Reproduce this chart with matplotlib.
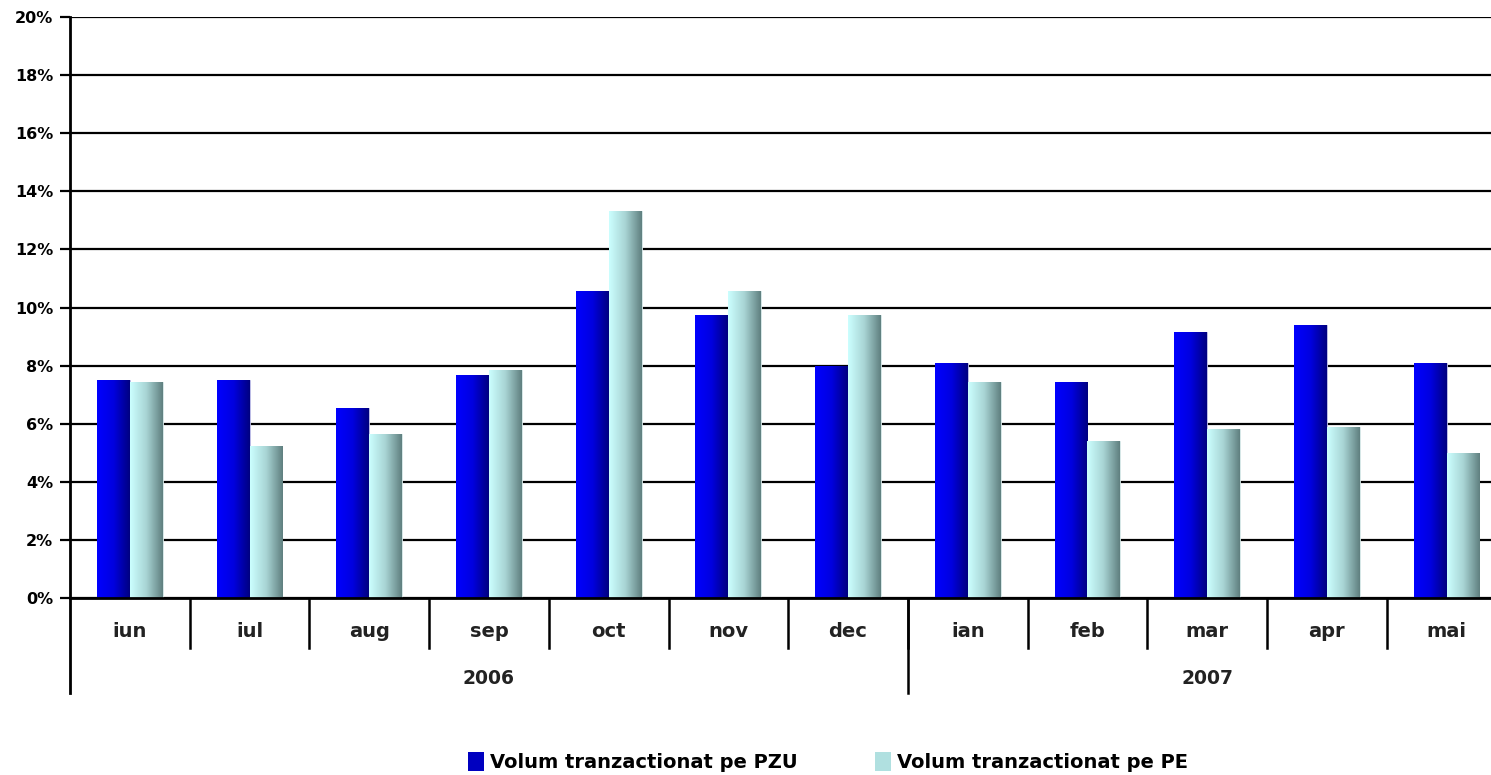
import numpy as np
import matplotlib.pyplot as plt
from matplotlib.patches import Patch
from matplotlib.colors import LinearSegmentedColormap

plt.rcParams['font.family'] = ['DejaVu Sans']
plt.rcParams['font.weight'] = 'bold'

# date
luni = ["iun", "iul", "aug", "sep", "oct", "nov", "dec", "ian", "feb", "mar", "apr", "mai"]
ani = ["2006", "2007"]
luni_pe_an = [7, 5]
pzu = [7.52, 7.52, 6.55, 7.69, 10.56, 9.73, 8.00, 8.10, 7.45, 9.17, 9.41, 8.09]
pe = [7.44, 5.23, 5.65, 7.86, 13.33, 10.57, 9.73, 7.45, 5.41, 5.83, 5.89, 4.99]
yticks = [0, 2, 4, 6, 8, 10, 12, 14, 16, 18, 20]

W, H = 1491, 775
fig = plt.figure(figsize=(W / 100, H / 100), dpi=100)
# axa se intinde dincolo de marginea dreapta (ca in original)
ax = fig.add_axes([70 / W, 1 - 598 / H, 12 * 119.7 / W, 581 / H])

x = np.arange(len(luni))
w = 0.275

cm_pzu = LinearSegmentedColormap.from_list("pzu", ["#0000ff", "#0000e0", "#000080"])
cm_pe = LinearSegmentedColormap.from_list("pe", ["#ccffff", "#a8d4d4", "#5f7f7f"])
grad = np.linspace(0, 1, 256).reshape(1, -1)

bars1 = ax.bar(x - w / 2, pzu, w, color="#0000c0", edgecolor="#c8c8e8", linewidth=0.6, zorder=3)
bars2 = ax.bar(x + w / 2, pe, w, color="#9fcfcf", edgecolor="#d8e8e8", linewidth=0.6, zorder=3)
for bars, cm in [(bars1, cm_pzu), (bars2, cm_pe)]:
    for b in bars:
        x0, y0 = b.get_x(), b.get_y()
        im = ax.imshow(grad, cmap=cm, aspect="auto", zorder=4,
                       extent=[x0, x0 + b.get_width(), y0, y0 + b.get_height()])
        im.set_clip_path(b)

ax.set_xlim(-0.5, len(luni) - 0.5)
ax.set_ylim(0, 20)
ax.set_yticks(yticks)
ax.set_yticklabels([f"{t}%" for t in yticks], fontsize=11.5, fontweight="bold")
ax.yaxis.grid(True, color="black", linewidth=1.6, zorder=0)
ax.set_axisbelow(True)
ax.tick_params(axis="y", length=7, width=1.6, pad=5)
ax.tick_params(axis="x", length=0)
ax.set_xticks([])
for s in ["top", "right", "bottom"]:
    ax.spines[s].set_visible(False)
ax.spines["left"].set_linewidth(2)
ax.spines["left"].set_bounds(0, 20)

tr = ax.get_xaxis_transform()
# linia de baza
ax.plot([-0.5, len(luni) - 0.5], [0, 0], transform=tr, color="black", lw=2, clip_on=False, zorder=5)
# etichete luni si separatoare
for i, m in enumerate(luni):
    ax.text(i, -0.057, m, transform=tr, ha="center", va="center", fontsize=14, fontweight="bold",
            color="#222222")
for i in range(1, len(luni)):
    ax.plot([i - 0.5, i - 0.5], [0, -0.086], transform=tr, color="black", lw=1.8, clip_on=False)
# etichete ani
start = 0
for an, n in zip(ani, luni_pe_an):
    ax.text(start + n / 2 - 0.5, -0.139, an, transform=tr, ha="center", va="center",
            fontsize=13.5, fontweight="bold", color="#222222")
    ax.plot([start - 0.5, start - 0.5], [0, -0.1635], transform=tr, color="black",
            lw=2 if start == 0 else 1.8, clip_on=False)
    start += n

handles = [Patch(facecolor="#0000c0", label="Volum tranzactionat pe PZU"),
           Patch(facecolor="#b0e0e0", label="Volum tranzactionat pe PE")]
fig.legend(handles=handles, loc="center", bbox_to_anchor=(828 / W, 1 - 762 / H), ncol=2,
           frameon=False, handlelength=0.8, handleheight=1.1,
           handletextpad=0.3, columnspacing=4.0, prop={"weight": "bold", "size": 14})

fig.savefig("out.png", dpi=100)
